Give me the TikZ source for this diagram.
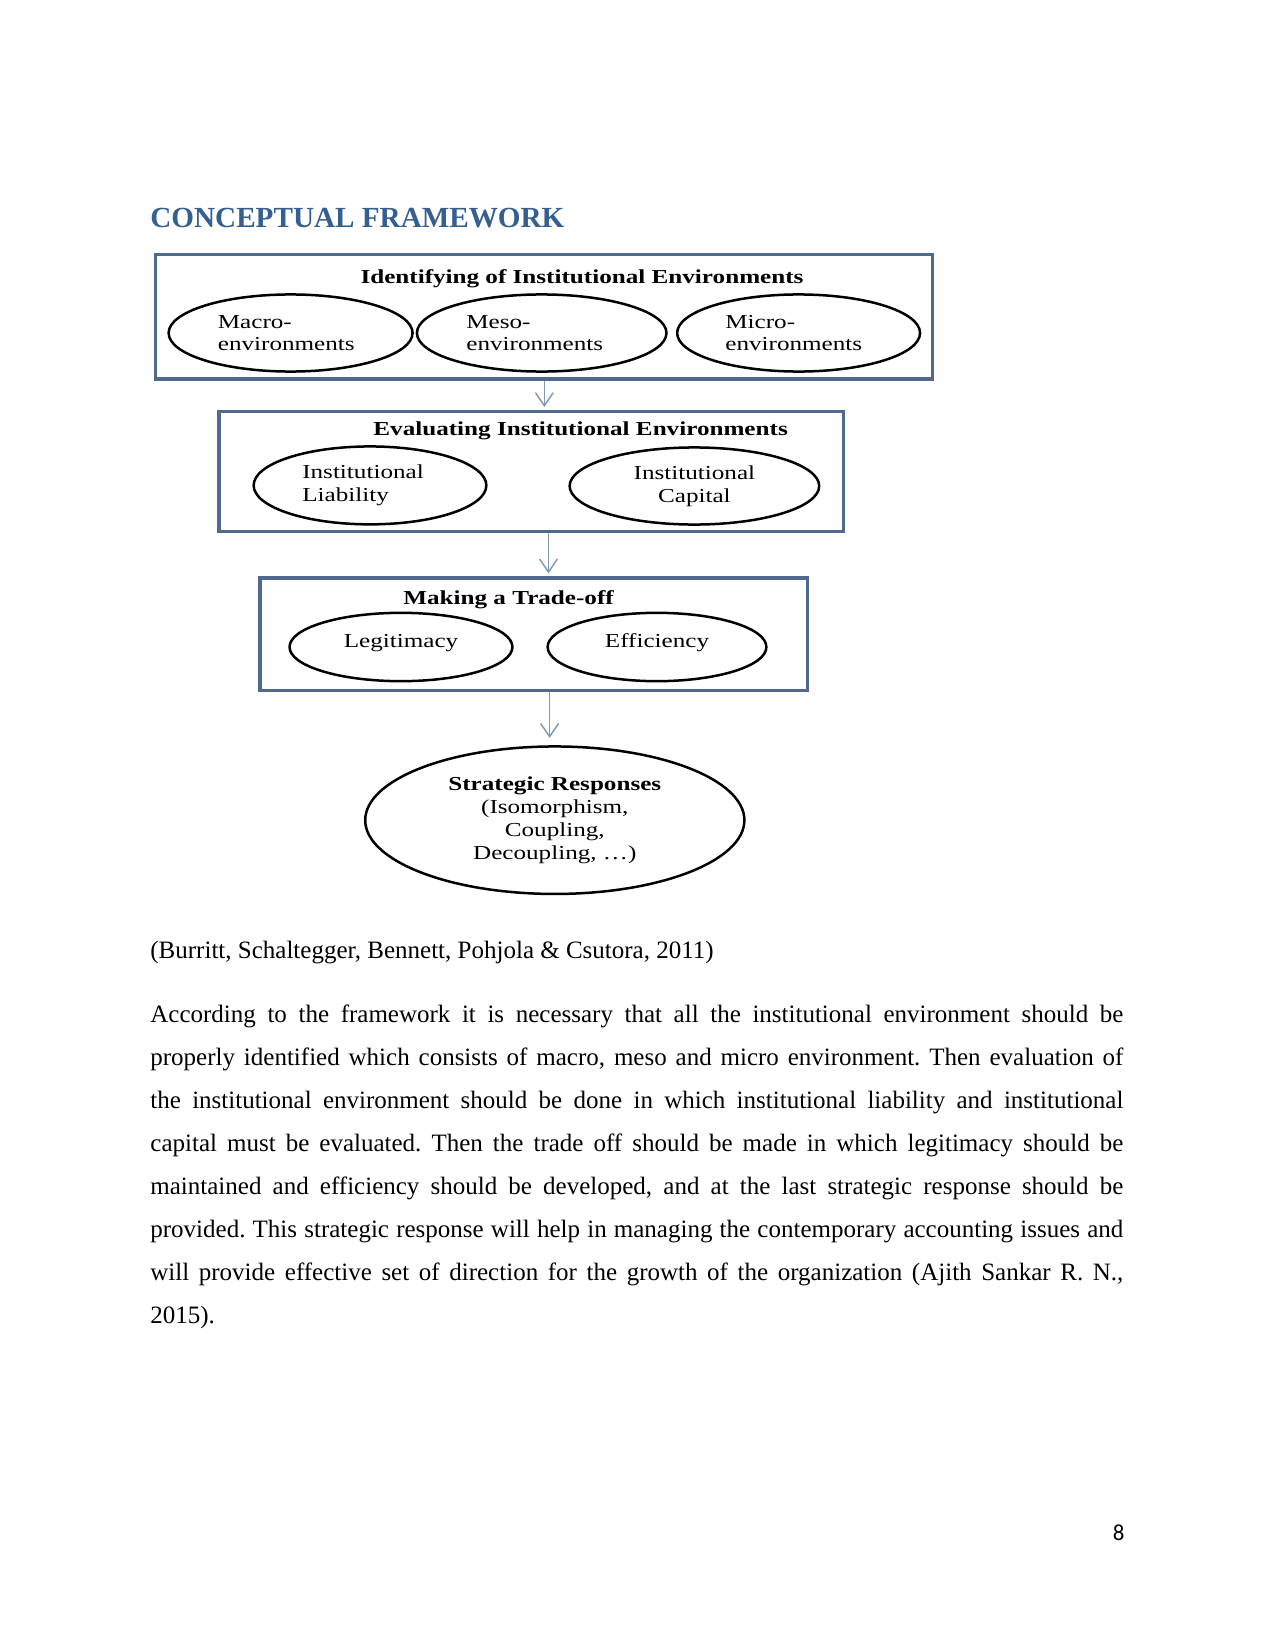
\documentclass[tikz,border=0pt]{standalone}
\usepackage{fontspec}
\setmainfont{Liberation Serif}
\newfontfamily\figfont[FakeStretch=1.27]{Liberation Serif}
\newfontfamily\numfont{Carlito}
\usepackage{xcolor}
\usepackage{tikz}
\usetikzlibrary{arrows.meta,positioning,shapes.geometric}
\definecolor{headx}{HTML}{365F91}
\definecolor{framex}{HTML}{51688F}
\definecolor{arrowx}{HTML}{8297BA}
\tikzset{
  stg/.style={draw=framex,line width=1.5pt,rectangle,inner sep=0pt},
  el/.style={ellipse,draw=black,line width=1.2pt,inner sep=0pt,font=\figfont\fontsize{9.5}{10.9}\selectfont},
  ttl/.style={inner sep=0pt,font=\figfont\fontsize{9.5}{10.9}\selectfont\bfseries},
  ar/.style={-{Straight Barb[length=2.2mm,width=3mm]},line width=0.7pt,arrowx,shorten >=1.5pt},
  txt/.style={inner sep=0pt,anchor=base west,font=\fontsize{12}{20.7}\selectfont\frenchspacing}
}

\begin{document}
\begin{tikzpicture}[x=0.48pt,y=-0.48pt]
\path[fill=white,use as bounding box] (0,0) rectangle (1275,1651);
\node[txt,font=\fontsize{14}{16}\selectfont\bfseries,text=headx] (head) at (150,227.6) {CONCEPTUAL FRAMEWORK};
% identifying
\node[stg,minimum width=373pt,minimum height=59.6pt] (idbox) at (544.3,316.9) {};
\node[ttl] (idttl) at (582,279) {Identifying of Institutional Environments};
\node[el,minimum width=117.1pt,minimum height=37pt,text width=69.8pt,align=left] (macro) at (290.6,333) {Macro-\\environments};
\node[el,minimum width=119.8pt,minimum height=37pt,text width=72.3pt,align=left] (meso) at (541.7,333) {Meso-\\environments};
\node[el,minimum width=116.6pt,minimum height=37pt,text width=70.3pt,align=left] (micro) at (798.6,333) {Micro-\\environments};
% evaluating
\node[stg,minimum width=299.7pt,minimum height=57.6pt] (evbox) at (531.2,471.7) {};
\node[ttl] (evttl) at (580.6,431) {Evaluating Institutional Environments};
\node[el,minimum width=111.7pt,minimum height=37.4pt,text width=65pt,align=left] (liab) at (370,485.4) {Institutional\\Liability};
\node[el,minimum width=119.8pt,minimum height=37pt,align=center] (capit) at (694.4,486) {Institutional\\Capital};
% trade-off
\node[stg,minimum width=262.8pt,minimum height=54.1pt] (trbox) at (533.8,634.4) {};
\node[ttl] (trttl) at (508.6,599.5) {Making a Trade-off};
\node[el,minimum width=107pt,minimum height=32.8pt,text height=8pt,text depth=8pt] (legit) at (401,647) {Legitimacy};
\node[el,minimum width=105pt,minimum height=32.8pt,text height=8pt,text depth=8pt] (effic) at (657,647) {Efficiency};
% responses
\node[el,minimum width=182pt,minimum height=70.8pt,align=center] (strat) at (554.8,820.2) {\textbf{Strategic Responses}\\(Isomorphism,\\Coupling,\\Decoupling, \dots)};
\coordinate (a2) at (548.5,0);
\coordinate (a3) at (549.6,0);
\draw[ar] (idbox.south) -- (idbox.south |- evbox.north);
\draw[ar] (evbox.south -| a2) -- (trbox.north -| a2);
\draw[ar,shorten >=3.5pt] (trbox.south -| a3) -- (strat.north -| a3);
% text below
\node[txt] (cite) at (150,958) {(Burritt, Schaltegger, Bennett, Pohjola \& Csutora, 2011)};
\node[txt,text width=467pt,align=justify] (body) at (150,1022) {According to the framework it is necessary that all the institutional environment should be\linebreak properly identified which consists of macro, meso and micro environment. Then evaluation of\linebreak the institutional environment should be done in which institutional liability and institutional\linebreak capital must be evaluated. Then the trade off should be made in which legitimacy should be\linebreak maintained and efficiency should be developed, and at the last strategic response should be\linebreak provided. This strategic response will help in managing the contemporary accounting issues and\linebreak will provide effective set of direction for the growth of the organization (Ajith Sankar R. N.,\linebreak 2015).};
\node[inner sep=0pt,anchor=base east,font=\numfont\fontsize{11}{13}\selectfont] (pgno) at (1125,1540) {8};
\end{tikzpicture}
\end{document}
